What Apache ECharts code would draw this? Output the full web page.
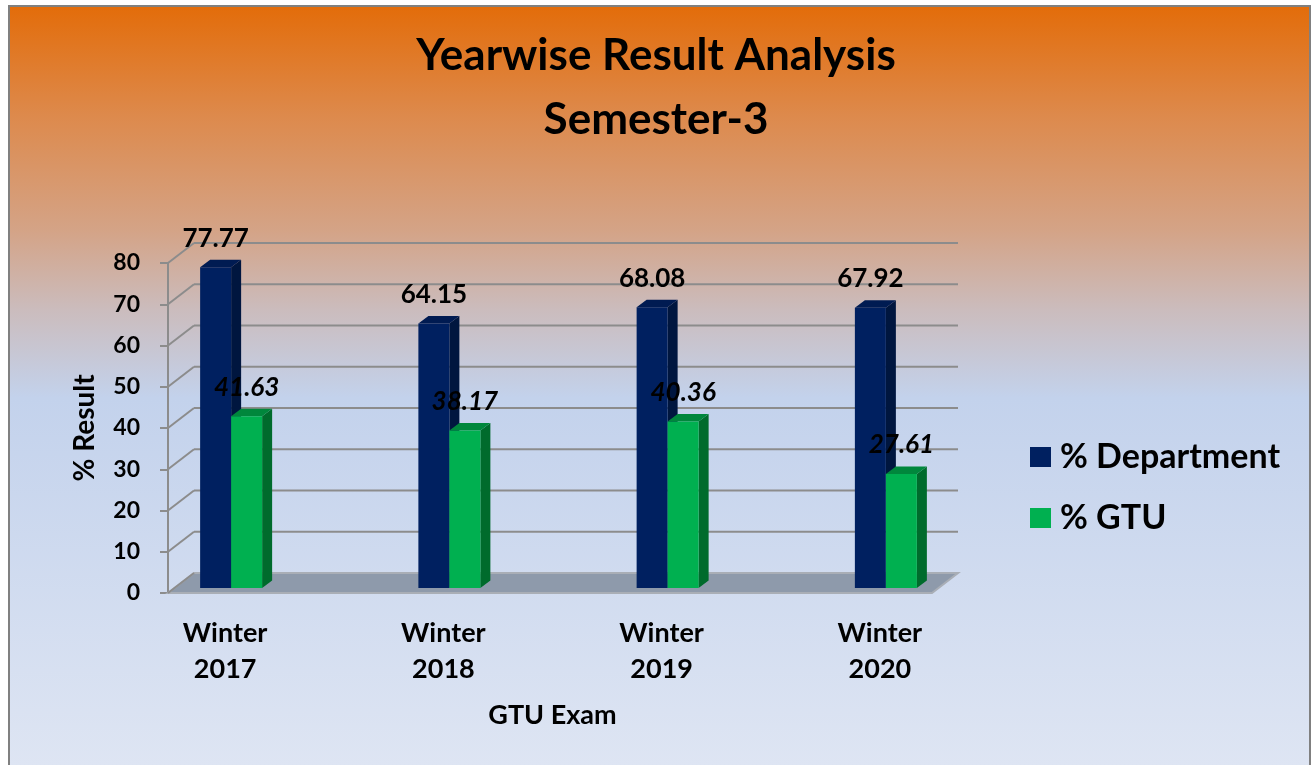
<!DOCTYPE html>
<html>
<head>
<meta charset="utf-8">
<script src="https://cdn.jsdelivr.net/npm/echarts@6/dist/echarts.min.js"></script>
<style>
html, body { margin: 0; padding: 0; background: #fff; }
#chart { width: 1312px; height: 765px; }
</style>
</head>
<body>
<div id="chart"></div>
<script>
// DATA
const categories = ['Winter\n2017', 'Winter\n2018', 'Winter\n2019', 'Winter\n2020'];
const deptValues = [77.77, 64.15, 68.08, 67.92];
const gtuValues = [41.63, 38.17, 40.36, 27.61];
const yTicks = [0, 10, 20, 30, 40, 50, 60, 70, 80];

const FONT = 'Lato, "Open Sans", sans-serif';
const gridColor = '#8c8c8c';

// 3D look: wall depth and bar depth (pixels)
const WALL_DX = 26, WALL_DY = -20;
const BAR_SX = 6, BAR_SY = -5;
const BAR_DX = 10, BAR_DY = -7.5;
const BAR_W = 31;

const chart = echarts.init(document.querySelector('#chart'));

function renderFloor(params, api) {
    const a = api.coord([0, 0]);
    const b = api.coord([1, 0]);
    return {
        type: 'polygon',
        shape: { points: [a, b, [b[0] + WALL_DX, b[1] + WALL_DY], [a[0] + WALL_DX, a[1] + WALL_DY]] },
        style: { fill: '#8e9aab', stroke: '#a9aeb6', lineWidth: 2 }
    };
}

function renderWall(params, api) {
    const v = api.value(0);
    const a = api.coord([0, v]);
    const b = api.coord([1, v]);
    const style = { stroke: gridColor, lineWidth: 2 };
    const children = [
        { type: 'line', shape: { x1: a[0], y1: a[1], x2: a[0] + WALL_DX, y2: a[1] + WALL_DY }, style: style }
    ];
    if (v !== 0) {
        children.push({ type: 'line', shape: { x1: a[0] + WALL_DX, y1: a[1] + WALL_DY, x2: b[0] + WALL_DX, y2: b[1] + WALL_DY }, style: style });
    }
    return { type: 'group', children: children };
}

function makeBarRenderer(isLeft, front, topColor, sideColor, italic) {
    return function (params, api) {
        const idx = api.value(0);
        const val = api.value(1);
        const base = api.coord([idx, 0]);
        const top = api.coord([idx, val]);
        const xl = isLeft ? base[0] + BAR_SX - BAR_W : base[0] + BAR_SX;
        const xr = xl + BAR_W;
        const yb = base[1] + BAR_SY;
        const yt = top[1] + BAR_SY;
        return {
            type: 'group',
            children: [
                {
                    type: 'polygon',
                    shape: { points: [[xr, yt], [xr + BAR_DX, yt + BAR_DY], [xr + BAR_DX, yb + BAR_DY], [xr, yb]] },
                    style: { fill: sideColor }
                },
                {
                    type: 'polygon',
                    shape: { points: [[xl, yt], [xr, yt], [xr + BAR_DX, yt + BAR_DY], [xl + BAR_DX, yt + BAR_DY]] },
                    style: { fill: topColor }
                },
                {
                    type: 'rect',
                    shape: { x: xl, y: yt, width: BAR_W, height: yb - yt },
                    style: { fill: front }
                },
                {
                    type: 'text',
                    z2: 10,
                    style: {
                        text: val.toFixed(2),
                        x: (xl + xr) / 2,
                        y: yt - 29,
                        align: 'center',
                        verticalAlign: 'middle',
                        fill: '#000',
                        fontFamily: FONT,
                        fontWeight: 'bold',
                        fontStyle: italic ? 'italic' : 'normal',
                        fontSize: 26
                    }
                }
            ]
        };
    };
}

const option = {
    backgroundColor: '#ffffff',
    animation: false,
    graphic: [
        {
            type: 'rect',
            z: -100,
            shape: { x: 9, y: 6, width: 1301, height: 800 },
            style: {
                stroke: '#808080',
                lineWidth: 2,
                fill: {
                    type: 'linear', x: 0, y: 0, x2: 0, y2: 1,
                    colorStops: [
                        { offset: 0, color: '#e36c09' },
                        { offset: 0.14, color: '#dd8a4d' },
                        { offset: 0.28, color: '#d4a386' },
                        { offset: 0.38, color: '#cbbcbd' },
                        { offset: 0.49, color: '#c3d2ec' },
                        { offset: 0.95, color: '#dee5f3' },
                        { offset: 1, color: '#e0e7f4' }
                    ]
                }
            }
        }
    ],
    title: {
        text: 'Yearwise Result Analysis\nSemester-3',
        left: 'center',
        top: 19,
        textStyle: {
            fontFamily: FONT,
            fontWeight: 'bold',
            fontSize: 44,
            lineHeight: 64,
            color: '#000'
        }
    },
    legend: {
        data: ['% Department', '% GTU'],
        orient: 'vertical',
        left: 1030,
        top: 439,
        padding: 0,
        icon: 'rect',
        itemWidth: 21,
        itemHeight: 20,
        itemGap: 25,
        textStyle: {
            fontFamily: FONT,
            fontWeight: 'bold',
            fontSize: 34,
            lineHeight: 36,
            color: '#000',
            padding: [0, 0, 0, 4]
        }
    },
    grid: [
        { left: 168, top: 263, width: 764, height: 330, outerBoundsMode: 'none', containLabel: false },
        { left: 116, top: 263, width: 873, height: 330, outerBoundsMode: 'none', containLabel: false }
    ],
    xAxis: [
        { gridIndex: 0, type: 'value', min: 0, max: 1, show: false },
        {
            gridIndex: 1,
            type: 'category',
            data: categories,
            axisLine: { show: false },
            axisTick: { show: false },
            axisLabel: {
                margin: 22,
                fontFamily: FONT,
                fontWeight: 'bold',
                fontSize: 27,
                lineHeight: 36,
                color: '#000'
            },
            name: 'GTU Exam',
            nameLocation: 'middle',
            nameGap: 109,
            nameTextStyle: {
                fontFamily: FONT,
                fontWeight: 'bold',
                fontSize: 27,
                color: '#000'
            }
        }
    ],
    yAxis: [
        {
            gridIndex: 0,
            type: 'value',
            min: 0,
            max: 80,
            interval: 10,
            axisLine: { show: true, lineStyle: { color: gridColor, width: 2 } },
            axisTick: { show: true, length: 8, lineStyle: { color: gridColor, width: 2 } },
            splitLine: { show: false },
            axisLabel: {
                margin: 28,
                fontFamily: FONT,
                fontWeight: 'bold',
                fontSize: 23,
                color: '#000'
            },
            name: '% Result',
            nameLocation: 'middle',
            nameRotate: 90,
            nameGap: 69,
            nameTextStyle: {
                fontFamily: FONT,
                fontWeight: 'bold',
                fontSize: 28,
                color: '#000'
            }
        },
        { gridIndex: 1, type: 'value', min: 0, max: 80, show: false }
    ],
    series: [
        {
            type: 'custom',
            xAxisIndex: 0,
            yAxisIndex: 0,
            z: 1,
            silent: true,
            data: [[0]],
            renderItem: renderFloor
        },
        {
            type: 'custom',
            xAxisIndex: 0,
            yAxisIndex: 0,
            z: 1,
            silent: true,
            data: yTicks.map(v => [v]),
            renderItem: renderWall
        },
        {
            name: '% Department',
            type: 'custom',
            xAxisIndex: 1,
            yAxisIndex: 1,
            z: 3,
            itemStyle: { color: '#002060' },
            data: deptValues.map((v, i) => [i, v]),
            renderItem: makeBarRenderer(true, '#002060', '#001b52', '#00163f', false)
        },
        {
            name: '% GTU',
            type: 'custom',
            xAxisIndex: 1,
            yAxisIndex: 1,
            z: 4,
            itemStyle: { color: '#00b050' },
            data: gtuValues.map((v, i) => [i, v]),
            renderItem: makeBarRenderer(false, '#00b050', '#00873c', '#006b2c', true)
        }
    ]
};

chart.setOption(option);
</script>
</body>
</html>
